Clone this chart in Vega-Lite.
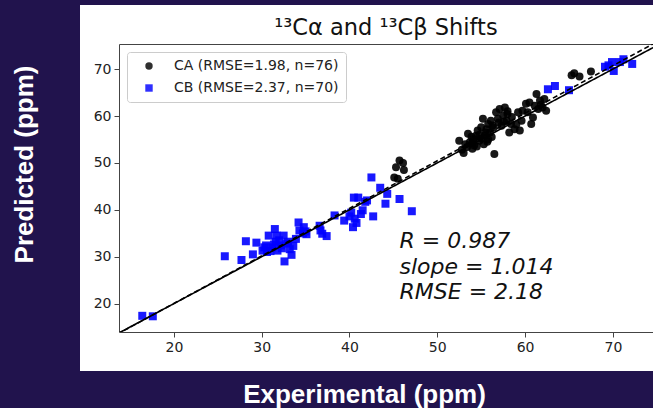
{
  "$schema": "https://vega.github.io/schema/vega-lite/v6.json",
  "autosize": {"type": "none"},
  "padding": {"left": 119, "top": 44, "right": 0, "bottom": 76},
  "width": 534,
  "height": 288,
  "background": "#21134d",
  "config": {
    "view": {"fill": "white", "stroke": "white", "strokeWidth": 78},
    "font": "DejaVu Sans",
    "axis": {"grid": false, "domainColor": "#444", "domainWidth": 1, "tickColor": "#444", "tickSize": 5, "labelFont": "DejaVu Sans", "labelFontSize": 14, "labelColor": "#222", "labelPadding": 3}
  },
  "title": {"text": "¹³Cα and ¹³Cβ Shifts", "font": "DejaVu Sans", "fontSize": 22.5, "fontWeight": "normal", "color": "#111", "anchor": "middle", "baseline": "alphabetic", "offset": -13},
  "datasets": {
    "points": [
      {"series": "CA (RMSE=1.98, n=76)", "exp": 45.1, "pred": 46.9},
      {"series": "CA (RMSE=1.98, n=76)", "exp": 45.5, "pred": 46.6},
      {"series": "CA (RMSE=1.98, n=76)", "exp": 45.3, "pred": 49.1},
      {"series": "CA (RMSE=1.98, n=76)", "exp": 45.7, "pred": 50.5},
      {"series": "CA (RMSE=1.98, n=76)", "exp": 46.1, "pred": 50.0},
      {"series": "CA (RMSE=1.98, n=76)", "exp": 46.2, "pred": 48.5},
      {"series": "CA (RMSE=1.98, n=76)", "exp": 52.5, "pred": 54.7},
      {"series": "CA (RMSE=1.98, n=76)", "exp": 52.8, "pred": 52.8},
      {"series": "CA (RMSE=1.98, n=76)", "exp": 53.0, "pred": 52.1},
      {"series": "CA (RMSE=1.98, n=76)", "exp": 53.4, "pred": 53.4},
      {"series": "CA (RMSE=1.98, n=76)", "exp": 53.5, "pred": 56.2},
      {"series": "CA (RMSE=1.98, n=76)", "exp": 53.7, "pred": 54.4},
      {"series": "CA (RMSE=1.98, n=76)", "exp": 54.1, "pred": 55.1},
      {"series": "CA (RMSE=1.98, n=76)", "exp": 54.2, "pred": 53.7},
      {"series": "CA (RMSE=1.98, n=76)", "exp": 54.4, "pred": 55.8},
      {"series": "CA (RMSE=1.98, n=76)", "exp": 54.6, "pred": 56.9},
      {"series": "CA (RMSE=1.98, n=76)", "exp": 54.8, "pred": 54.7},
      {"series": "CA (RMSE=1.98, n=76)", "exp": 55.0, "pred": 57.6},
      {"series": "CA (RMSE=1.98, n=76)", "exp": 55.2, "pred": 59.4},
      {"series": "CA (RMSE=1.98, n=76)", "exp": 55.4, "pred": 55.8},
      {"series": "CA (RMSE=1.98, n=76)", "exp": 55.6, "pred": 57.2},
      {"series": "CA (RMSE=1.98, n=76)", "exp": 55.8, "pred": 58.3},
      {"series": "CA (RMSE=1.98, n=76)", "exp": 56.0, "pred": 56.5},
      {"series": "CA (RMSE=1.98, n=76)", "exp": 56.1, "pred": 59.0},
      {"series": "CA (RMSE=1.98, n=76)", "exp": 56.5, "pred": 51.9},
      {"series": "CA (RMSE=1.98, n=76)", "exp": 56.7, "pred": 60.8},
      {"series": "CA (RMSE=1.98, n=76)", "exp": 56.9, "pred": 59.4},
      {"series": "CA (RMSE=1.98, n=76)", "exp": 57.1, "pred": 61.5},
      {"series": "CA (RMSE=1.98, n=76)", "exp": 57.3, "pred": 57.9},
      {"series": "CA (RMSE=1.98, n=76)", "exp": 57.5, "pred": 60.1},
      {"series": "CA (RMSE=1.98, n=76)", "exp": 57.7, "pred": 61.8},
      {"series": "CA (RMSE=1.98, n=76)", "exp": 57.9, "pred": 59.0},
      {"series": "CA (RMSE=1.98, n=76)", "exp": 58.0, "pred": 60.4},
      {"series": "CA (RMSE=1.98, n=76)", "exp": 58.2, "pred": 56.5},
      {"series": "CA (RMSE=1.98, n=76)", "exp": 58.4, "pred": 58.3},
      {"series": "CA (RMSE=1.98, n=76)", "exp": 58.8, "pred": 57.2},
      {"series": "CA (RMSE=1.98, n=76)", "exp": 59.2, "pred": 60.8},
      {"series": "CA (RMSE=1.98, n=76)", "exp": 59.4, "pred": 56.9},
      {"series": "CA (RMSE=1.98, n=76)", "exp": 59.6, "pred": 59.0},
      {"series": "CA (RMSE=1.98, n=76)", "exp": 59.7, "pred": 61.1},
      {"series": "CA (RMSE=1.98, n=76)", "exp": 60.1, "pred": 62.6},
      {"series": "CA (RMSE=1.98, n=76)", "exp": 60.3, "pred": 60.8},
      {"series": "CA (RMSE=1.98, n=76)", "exp": 60.5, "pred": 62.9},
      {"series": "CA (RMSE=1.98, n=76)", "exp": 60.7, "pred": 58.3},
      {"series": "CA (RMSE=1.98, n=76)", "exp": 60.9, "pred": 59.7},
      {"series": "CA (RMSE=1.98, n=76)", "exp": 61.1, "pred": 62.2},
      {"series": "CA (RMSE=1.98, n=76)", "exp": 61.3, "pred": 64.7},
      {"series": "CA (RMSE=1.98, n=76)", "exp": 61.5, "pred": 61.5},
      {"series": "CA (RMSE=1.98, n=76)", "exp": 61.7, "pred": 63.3},
      {"series": "CA (RMSE=1.98, n=76)", "exp": 62.0, "pred": 61.8},
      {"series": "CA (RMSE=1.98, n=76)", "exp": 62.2, "pred": 63.6},
      {"series": "CA (RMSE=1.98, n=76)", "exp": 62.4, "pred": 61.1},
      {"series": "CA (RMSE=1.98, n=76)", "exp": 65.3, "pred": 68.7},
      {"series": "CA (RMSE=1.98, n=76)", "exp": 65.6, "pred": 69.1},
      {"series": "CA (RMSE=1.98, n=76)", "exp": 66.2, "pred": 68.4},
      {"series": "CA (RMSE=1.98, n=76)", "exp": 67.5, "pred": 69.5},
      {"series": "CA (RMSE=1.98, n=76)", "exp": 54.0, "pred": 54.3},
      {"series": "CA (RMSE=1.98, n=76)", "exp": 54.5, "pred": 53.5},
      {"series": "CA (RMSE=1.98, n=76)", "exp": 55.0, "pred": 55.2},
      {"series": "CA (RMSE=1.98, n=76)", "exp": 55.3, "pred": 54.0},
      {"series": "CA (RMSE=1.98, n=76)", "exp": 55.7, "pred": 54.5},
      {"series": "CA (RMSE=1.98, n=76)", "exp": 56.2, "pred": 55.5},
      {"series": "CA (RMSE=1.98, n=76)", "exp": 54.8, "pred": 56.0},
      {"series": "CA (RMSE=1.98, n=76)", "exp": 55.5, "pred": 56.5},
      {"series": "CA (RMSE=1.98, n=76)", "exp": 56.4, "pred": 57.5},
      {"series": "CA (RMSE=1.98, n=76)", "exp": 57.0, "pred": 58.6},
      {"series": "CA (RMSE=1.98, n=76)", "exp": 56.3, "pred": 58.0},
      {"series": "CA (RMSE=1.98, n=76)", "exp": 57.6, "pred": 58.8},
      {"series": "CA (RMSE=1.98, n=76)", "exp": 58.5, "pred": 59.8},
      {"series": "CA (RMSE=1.98, n=76)", "exp": 58.0, "pred": 61.0},
      {"series": "CA (RMSE=1.98, n=76)", "exp": 53.2, "pred": 54.0},
      {"series": "CA (RMSE=1.98, n=76)", "exp": 54.0, "pred": 53.0},
      {"series": "CA (RMSE=1.98, n=76)", "exp": 55.8, "pred": 55.0},
      {"series": "CA (RMSE=1.98, n=76)", "exp": 59.0, "pred": 58.2},
      {"series": "CA (RMSE=1.98, n=76)", "exp": 61.8, "pred": 62.4},
      {"series": "CA (RMSE=1.98, n=76)", "exp": 53.9, "pred": 55.6},
      {"series": "CB (RMSE=2.37, n=70)", "exp": 16.4, "pred": 17.4},
      {"series": "CB (RMSE=2.37, n=70)", "exp": 17.6, "pred": 17.3},
      {"series": "CB (RMSE=2.37, n=70)", "exp": 25.8, "pred": 30.1},
      {"series": "CB (RMSE=2.37, n=70)", "exp": 27.7, "pred": 29.3},
      {"series": "CB (RMSE=2.37, n=70)", "exp": 28.2, "pred": 33.3},
      {"series": "CB (RMSE=2.37, n=70)", "exp": 29.0, "pred": 30.5},
      {"series": "CB (RMSE=2.37, n=70)", "exp": 29.4, "pred": 33.0},
      {"series": "CB (RMSE=2.37, n=70)", "exp": 30.1, "pred": 31.3},
      {"series": "CB (RMSE=2.37, n=70)", "exp": 30.5, "pred": 32.4},
      {"series": "CB (RMSE=2.37, n=70)", "exp": 30.8, "pred": 34.5},
      {"series": "CB (RMSE=2.37, n=70)", "exp": 31.0, "pred": 31.2},
      {"series": "CB (RMSE=2.37, n=70)", "exp": 31.4, "pred": 32.6},
      {"series": "CB (RMSE=2.37, n=70)", "exp": 31.5, "pred": 35.9},
      {"series": "CB (RMSE=2.37, n=70)", "exp": 31.7, "pred": 34.5},
      {"series": "CB (RMSE=2.37, n=70)", "exp": 31.8, "pred": 31.3},
      {"series": "CB (RMSE=2.37, n=70)", "exp": 32.2, "pred": 32.4},
      {"series": "CB (RMSE=2.37, n=70)", "exp": 32.5, "pred": 34.5},
      {"series": "CB (RMSE=2.37, n=70)", "exp": 32.6, "pred": 29.0},
      {"series": "CB (RMSE=2.37, n=70)", "exp": 32.8, "pred": 32.8},
      {"series": "CB (RMSE=2.37, n=70)", "exp": 33.2, "pred": 31.6},
      {"series": "CB (RMSE=2.37, n=70)", "exp": 33.4, "pred": 30.4},
      {"series": "CB (RMSE=2.37, n=70)", "exp": 33.6, "pred": 32.3},
      {"series": "CB (RMSE=2.37, n=70)", "exp": 33.9, "pred": 33.8},
      {"series": "CB (RMSE=2.37, n=70)", "exp": 34.2, "pred": 37.3},
      {"series": "CB (RMSE=2.37, n=70)", "exp": 34.3, "pred": 35.6},
      {"series": "CB (RMSE=2.37, n=70)", "exp": 34.7, "pred": 35.0},
      {"series": "CB (RMSE=2.37, n=70)", "exp": 35.0, "pred": 35.4},
      {"series": "CB (RMSE=2.37, n=70)", "exp": 35.1, "pred": 34.8},
      {"series": "CB (RMSE=2.37, n=70)", "exp": 36.6, "pred": 36.6},
      {"series": "CB (RMSE=2.37, n=70)", "exp": 36.9, "pred": 34.9},
      {"series": "CB (RMSE=2.37, n=70)", "exp": 37.4, "pred": 34.4},
      {"series": "CB (RMSE=2.37, n=70)", "exp": 38.3, "pred": 38.8},
      {"series": "CB (RMSE=2.37, n=70)", "exp": 39.4, "pred": 37.7},
      {"series": "CB (RMSE=2.37, n=70)", "exp": 40.0, "pred": 38.6},
      {"series": "CB (RMSE=2.37, n=70)", "exp": 40.4, "pred": 36.3},
      {"series": "CB (RMSE=2.37, n=70)", "exp": 40.6, "pred": 38.1},
      {"series": "CB (RMSE=2.37, n=70)", "exp": 40.5, "pred": 42.6},
      {"series": "CB (RMSE=2.37, n=70)", "exp": 41.0, "pred": 42.6},
      {"series": "CB (RMSE=2.37, n=70)", "exp": 41.3, "pred": 39.1},
      {"series": "CB (RMSE=2.37, n=70)", "exp": 41.5, "pred": 39.9},
      {"series": "CB (RMSE=2.37, n=70)", "exp": 42.0, "pred": 42.0},
      {"series": "CB (RMSE=2.37, n=70)", "exp": 42.5, "pred": 46.9},
      {"series": "CB (RMSE=2.37, n=70)", "exp": 42.7, "pred": 38.6},
      {"series": "CB (RMSE=2.37, n=70)", "exp": 43.5, "pred": 44.7},
      {"series": "CB (RMSE=2.37, n=70)", "exp": 44.1, "pred": 41.3},
      {"series": "CB (RMSE=2.37, n=70)", "exp": 44.3, "pred": 43.4},
      {"series": "CB (RMSE=2.37, n=70)", "exp": 45.7, "pred": 42.3},
      {"series": "CB (RMSE=2.37, n=70)", "exp": 47.1, "pred": 39.7},
      {"series": "CB (RMSE=2.37, n=70)", "exp": 62.6, "pred": 65.7},
      {"series": "CB (RMSE=2.37, n=70)", "exp": 63.4, "pred": 66.4},
      {"series": "CB (RMSE=2.37, n=70)", "exp": 65.0, "pred": 65.5},
      {"series": "CB (RMSE=2.37, n=70)", "exp": 69.1, "pred": 70.5},
      {"series": "CB (RMSE=2.37, n=70)", "exp": 69.9, "pred": 71.5},
      {"series": "CB (RMSE=2.37, n=70)", "exp": 70.1, "pred": 69.6},
      {"series": "CB (RMSE=2.37, n=70)", "exp": 70.8, "pred": 71.5},
      {"series": "CB (RMSE=2.37, n=70)", "exp": 71.2, "pred": 72.1},
      {"series": "CB (RMSE=2.37, n=70)", "exp": 72.2, "pred": 71.1},
      {"series": "CB (RMSE=2.37, n=70)", "exp": 30.6, "pred": 31.0},
      {"series": "CB (RMSE=2.37, n=70)", "exp": 31.2, "pred": 32.0},
      {"series": "CB (RMSE=2.37, n=70)", "exp": 32.0, "pred": 33.5},
      {"series": "CB (RMSE=2.37, n=70)", "exp": 32.3, "pred": 31.8},
      {"series": "CB (RMSE=2.37, n=70)", "exp": 33.0, "pred": 33.2},
      {"series": "CB (RMSE=2.37, n=70)", "exp": 30.3, "pred": 32.0},
      {"series": "CB (RMSE=2.37, n=70)", "exp": 31.6, "pred": 33.2},
      {"series": "CB (RMSE=2.37, n=70)", "exp": 34.8, "pred": 36.3},
      {"series": "CB (RMSE=2.37, n=70)", "exp": 36.7, "pred": 35.6},
      {"series": "CB (RMSE=2.37, n=70)", "exp": 40.8, "pred": 37.2},
      {"series": "CB (RMSE=2.37, n=70)", "exp": 40.2, "pred": 39.4},
      {"series": "CB (RMSE=2.37, n=70)", "exp": 69.5, "pred": 70.8},
      {"series": "CB (RMSE=2.37, n=70)", "exp": 41.8, "pred": 41.7}
    ],
    "lines": [
      {"kind": "identity", "exp": 13.5, "pred": 13.5},
      {"kind": "identity", "exp": 76.0, "pred": 76.0},
      {"kind": "fit", "exp": 13.5, "pred": 13.44},
      {"kind": "fit", "exp": 76.0, "pred": 76.81}
    ],
    "stats": [
      {"exp": 45.7, "pred": 31.8, "label": ["R = 0.987", "slope = 1.014", "RMSE = 2.18"]}
    ]
  },
  "layer": [
    {
      "data": {"name": "points"},
      "mark": {"type": "point", "filled": true, "size": 64, "opacity": 0.9},
      "encoding": {
        "x": {"field": "exp", "type": "quantitative", "scale": {"domain": [13.75, 74.57], "nice": false, "zero": false},
              "axis": {"orient": "bottom", "values": [20, 30, 40, 50, 60, 70], "title": "Experimental (ppm)", "titleFont": "Liberation Sans", "titleFontSize": 26, "titleFontWeight": "bold", "titleColor": "white", "titleX": 245, "titleY": 70, "titleAnchor": null, "titleAlign": "center", "titleBaseline": "alphabetic"}},
        "y": {"field": "pred", "type": "quantitative", "scale": {"domain": [13.95, 75.35], "nice": false, "zero": false},
              "axis": {"orient": "left", "values": [20, 30, 40, 50, 60, 70], "title": "Predicted (ppm)", "titleFont": "Liberation Sans", "titleFontSize": 26, "titleFontWeight": "bold", "titleColor": "white", "titleX": -87, "titleY": 120, "titleAngle": 270, "titleAlign": "center", "titleBaseline": "alphabetic"}},
        "color": {"field": "series", "type": "nominal", "scale": {"domain": ["CA (RMSE=1.98, n=76)", "CB (RMSE=2.37, n=70)"], "range": ["#000000", "#0000ff"]},
                  "legend": {"title": null, "orient": "top-left", "offset": 8, "fillColor": "white", "strokeColor": "#cccccc", "cornerRadius": 3, "padding": 7, "symbolOffset": 8, "labelOffset": 18, "symbolSize": 55, "symbolOpacity": 1, "labelFont": "DejaVu Sans", "labelFontSize": 14, "labelColor": "#222", "labelLimit": 400, "rowPadding": 8}},
        "shape": {"field": "series", "type": "nominal", "scale": {"domain": ["CA (RMSE=1.98, n=76)", "CB (RMSE=2.37, n=70)"], "range": ["circle", "square"]}}
      }
    },
    {
      "data": {"name": "lines"},
      "mark": {"type": "line", "clip": true, "color": "black", "strokeWidth": 1.6},
      "encoding": {
        "x": {"field": "exp", "type": "quantitative", "axis": {"orient": "top", "labels": false, "ticks": false, "title": null, "domain": true}},
        "y": {"field": "pred", "type": "quantitative", "axis": null},
        "detail": {"field": "kind"},
        "strokeDash": {"field": "kind", "type": "nominal", "scale": {"domain": ["identity", "fit"], "range": [[1, 0], [5, 3]]}, "legend": null}
      }
    },
    {
      "data": {"name": "stats"},
      "mark": {"type": "text", "font": "DejaVu Sans", "fontSize": 22, "fontStyle": "italic", "align": "left", "baseline": "alphabetic", "lineHeight": 25.5, "color": "#111"},
      "encoding": {
        "x": {"field": "exp", "type": "quantitative", "axis": null},
        "y": {"field": "pred", "type": "quantitative", "axis": null},
        "text": {"field": "label"}
      }
    }
  ],
  "resolve": {"axis": {"x": "independent", "y": "independent"}}
}
